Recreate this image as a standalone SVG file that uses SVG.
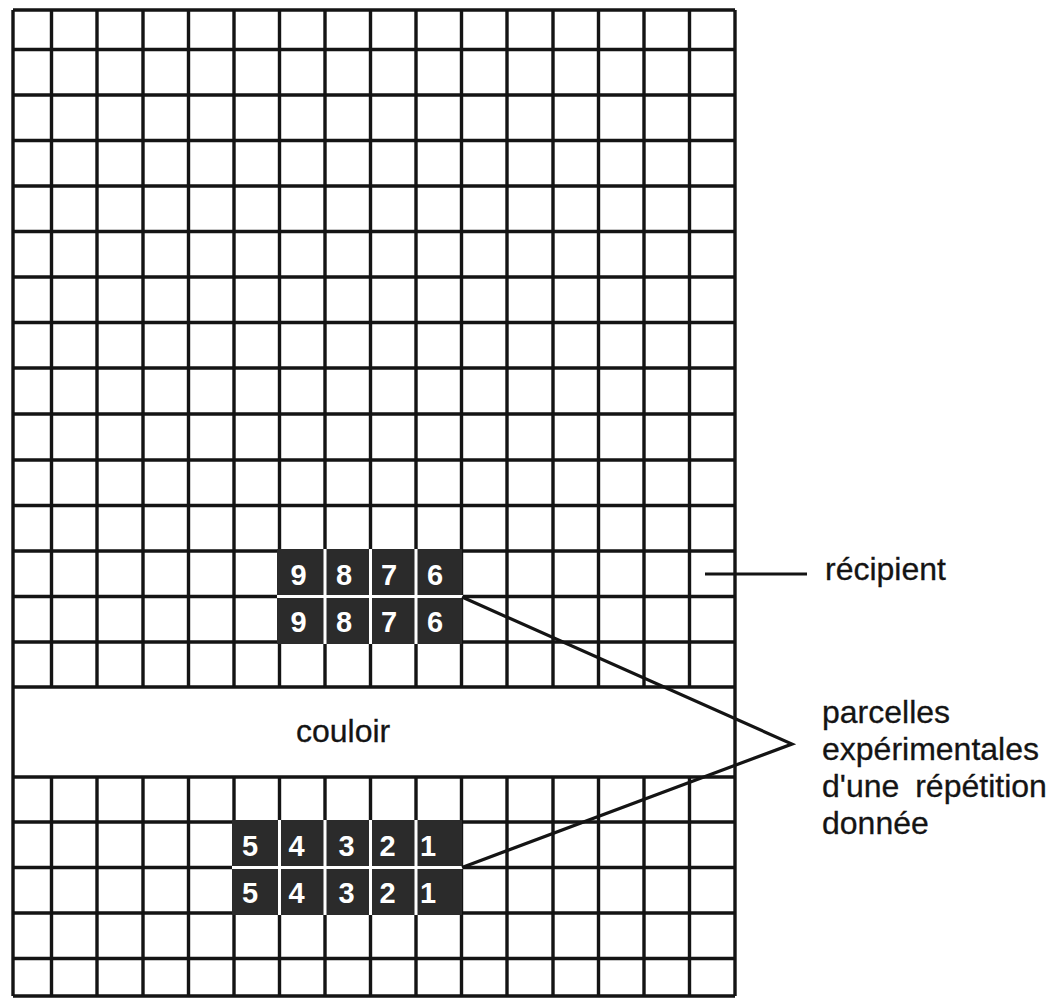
<svg xmlns="http://www.w3.org/2000/svg" width="1058" height="998" viewBox="0 0 1058 998">
<style>
.grid{fill:none;stroke:#141414;stroke-width:3.4}
.dark{fill:#2b2b2b}
.sep{fill:none;stroke:#ffffff;stroke-width:3}
.dig{font-family:"Liberation Sans",Arial,sans-serif;font-weight:bold;font-size:29px;fill:#ffffff;text-anchor:middle}
.lbl{font-family:"Liberation Sans",Arial,sans-serif;font-size:32px;fill:#141414;stroke:#141414;stroke-width:0.3}
.con{fill:none;stroke:#141414;stroke-width:3.2;stroke-linejoin:miter}
</style>
<rect x="0" y="0" width="1058" height="998" fill="#ffffff"/>
<g id="grid">
<path class="grid" d="M13 10H735M13 49.5H735M13 95H735M13 140.5H735M13 186H735M13 231.5H735M13 277H735M13 322.5H735M13 368H735M13 414H735M13 460H735M13 505.5H735M13 551H735M13 596.5H735M13 642H735M13 687H735M13 777H735M13 822H735M13 867.5H735M13 913H735M13 958.5H735M13 996H735"/>
<path class="grid" d="M13 10V996M735 10V996"/>
<path class="grid" d="M51.5 10V687M97 10V687M143 10V687M188.5 10V687M234 10V687M279.5 10V687M325 10V687M370.5 10V687M416 10V687M461.5 10V687M507 10V687M553 10V687M598.5 10V687M644 10V687M689.5 10V687"/>
<path class="grid" d="M51.5 777V996M97 777V996M143 777V996M188.5 777V996M234 777V996M279.5 777V996M325 777V996M370.5 777V996M416 777V996M461.5 777V996M507 777V996M553 777V996M598.5 777V996M644 777V996M689.5 777V996"/>
</g>
<g id="corridor">
<text class="lbl" x="296" y="742">couloir</text>
</g>
<g id="plots-top">
<rect class="dark" x="277" y="549" width="185" height="95"/>
<path class="sep" d="M325 549V644M370.5 549V644M416 549V644M277 596.5H463"/>
<text class="dig" x="298.5" y="585">9</text>
<text class="dig" x="344" y="585">8</text>
<text class="dig" x="389" y="585">7</text>
<text class="dig" x="435" y="585">6</text>
<text class="dig" x="298.5" y="632">9</text>
<text class="dig" x="344" y="632">8</text>
<text class="dig" x="389" y="632">7</text>
<text class="dig" x="435" y="632">6</text>
</g>
<g id="plots-bottom">
<rect class="dark" x="232" y="820" width="230" height="95"/>
<path class="sep" d="M279.5 820V915M325 820V915M370.5 820V915M416 820V915M232 867.5H463"/>
<text class="dig" x="250" y="856">5</text>
<text class="dig" x="296.5" y="856">4</text>
<text class="dig" x="346.5" y="856">3</text>
<text class="dig" x="387.5" y="856">2</text>
<text class="dig" x="428" y="856">1</text>
<text class="dig" x="250" y="903">5</text>
<text class="dig" x="296.5" y="903">4</text>
<text class="dig" x="346.5" y="903">3</text>
<text class="dig" x="387.5" y="903">2</text>
<text class="dig" x="428" y="903">1</text>
</g>
<g id="connectors">
<path class="con" d="M705 574H807"/>
<path class="con" d="M462 597L792 744L462 867.5"/>
</g>
<g id="label-recipient">
<text class="lbl" x="825" y="580">récipient</text>
</g>
<g id="label-parcelles">
<text class="lbl" x="822" y="723">parcelles</text>
<text class="lbl" x="822" y="760">expérimentales</text>
<text class="lbl" x="822" y="797">d'une<tspan dx="7"> répétition</tspan></text>
<text class="lbl" x="822" y="834">donnée</text>
</g>
</svg>
